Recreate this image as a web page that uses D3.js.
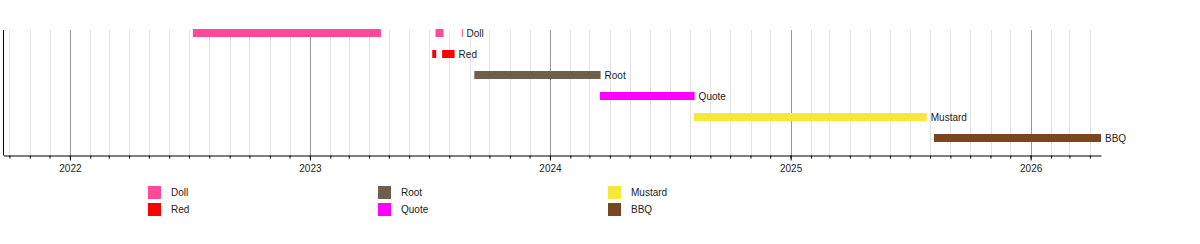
<!DOCTYPE html>
<html>
<head>
<meta charset="utf-8">
<script src="https://cdn.jsdelivr.net/npm/d3@7"></script>
<style>
  body { margin: 0; background: #fff; }
  svg { display: block; font-family: Arial, "Liberation Sans", sans-serif; }
</style>
</head>
<body>
<div id="chart"></div>
<script>
// rows, top to bottom
const rows = ["Doll", "Red", "Root", "Quote", "Mustard", "BBQ"];
const rowColors = ["#ff4a9a", "#ff0000", "#6f5e4b", "#ff00ff", "#f5e83a", "#7a4521"];

// every bar segment (a row can have more than one)
const taskNames  = ["Doll", "Doll", "Doll", "Red", "Red", "Root", "Quote", "Mustard", "BBQ"];
const taskStarts = ["2022-07-07", "2023-07-11", "2023-08-20", "2023-07-06", "2023-07-21", "2023-09-08", "2024-03-17", "2024-08-07", "2025-08-07"];
const taskEnds   = ["2023-04-19", "2023-07-23", "2023-08-21", "2023-07-12", "2023-08-09", "2024-03-18", "2024-08-08", "2025-07-27", "2026-04-18"];

const timeDomain = ["2021-09-22", "2026-04-18"];

const parse = d3.utcParse("%Y-%m-%d");
const tasks = taskNames.map((n, i) => ({ name: n, start: parse(taskStarts[i]), end: parse(taskEnds[i]) }));

const plotLeft = 3.5, plotRight = 1101, plotTop = 30, axisY = 155.5;

const svg = d3.select("#chart")
  .append("svg")
    .attr("width", 1200)
    .attr("height", 244);

const x = d3.scaleUtc()
  .domain(timeDomain.map(parse))
  .range([plotLeft, plotRight]);

const y = d3.scaleBand()
  .domain(rows)
  .range([22.5, 148.5]);

const color = d3.scaleOrdinal().domain(rows).range(rowColors);

// grid: light monthly lines, darker yearly lines
const months = x.ticks(d3.utcMonth.every(1));
svg.append("g")
  .selectAll("line")
  .data(months)
  .join("line")
    .attr("x1", d => Math.round(x(d)) + 0.5)
    .attr("x2", d => Math.round(x(d)) + 0.5)
    .attr("y1", plotTop)
    .attr("y2", axisY)
    .attr("stroke", d => d.getUTCMonth() === 0 ? "#999" : "#e2e2e2")
    .attr("stroke-width", 1);

// bars
svg.append("g")
  .selectAll("rect")
  .data(tasks)
  .join("rect")
    .attr("x", d => x(d.start))
    .attr("y", d => y(d.name) + y.bandwidth() / 2 - 4)
    .attr("width", d => Math.max(1, x(d.end) - x(d.start)))
    .attr("height", 8)
    .attr("fill", d => color(d.name));

// label after the last segment of each row
svg.append("g")
  .selectAll("text")
  .data(rows)
  .join("text")
    .attr("x", r => d3.max(tasks.filter(t => t.name === r), t => x(t.end)) + 4)
    .attr("y", r => y(r) + y.bandwidth() / 2)
    .attr("dy", "0.35em")
    .attr("font-size", "10px")
    .attr("fill", "#222")
    .text(r => r);

// axes
const minorAxis = svg.append("g")
  .attr("transform", `translate(0,${axisY})`)
  .call(d3.axisBottom(x).ticks(d3.utcMonth.every(1)).tickSize(3).tickSizeOuter(0).tickFormat(""));
minorAxis.select(".domain").remove();
minorAxis.selectAll("line").attr("stroke", "#000");

const majorAxis = svg.append("g")
  .attr("transform", `translate(0,${axisY})`)
  .call(d3.axisBottom(x).ticks(d3.utcYear.every(1)).tickSize(5).tickSizeOuter(0).tickPadding(4).tickFormat(d3.utcFormat("%Y")));
majorAxis.select(".domain").attr("stroke", "#000");
majorAxis.selectAll("text")
  .attr("font-size", "10px")
  .attr("font-family", "Arial, 'Liberation Sans', sans-serif")
  .attr("fill", "#222");

svg.append("line")
  .attr("x1", plotLeft)
  .attr("x2", plotLeft)
  .attr("y1", plotTop)
  .attr("y2", axisY)
  .attr("stroke", "#000");

// legend, filled column by column
const legend = svg.append("g")
  .selectAll("g")
  .data(rows)
  .join("g")
    .attr("transform", (d, i) => `translate(${148 + Math.floor(i / 2) * 230},${186 + (i % 2) * 17})`);

legend.append("rect")
  .attr("width", 13)
  .attr("height", 13)
  .attr("fill", d => color(d));

legend.append("text")
  .attr("x", 23)
  .attr("y", 6.5)
  .attr("dy", "0.35em")
  .attr("font-size", "10px")
  .attr("fill", "#222")
  .text(d => d);
</script>
</body>
</html>
